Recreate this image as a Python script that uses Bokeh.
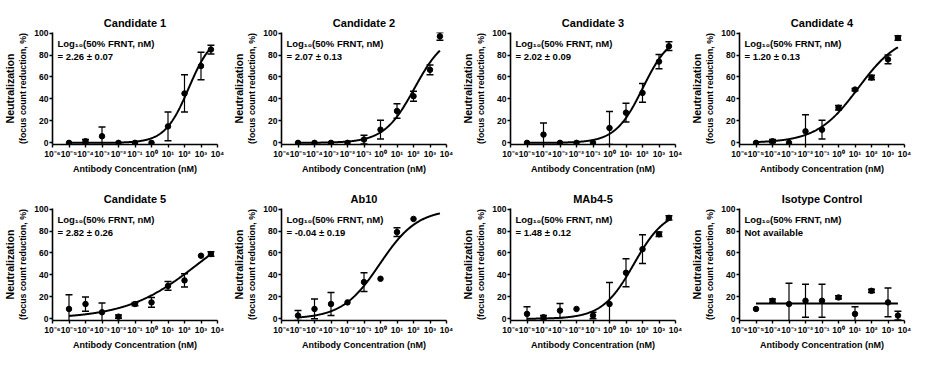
import numpy as np
from bokeh.plotting import figure
from bokeh.layouts import gridplot
from bokeh.models import Range1d, FixedTicker, CustomJSTickFormatter, Label, LinearAxis
from bokeh.embed import file_html
from bokeh.resources import INLINE

# ---------------- data ----------------
titles = ["Candidate 1", "Candidate 2", "Candidate 3", "Candidate 4",
          "Candidate 5", "Ab10", "MAb4-5", "Isotype Control"]

conc = [1e-5, 1e-4, 1e-3, 1e-2, 1e-1, 1e0, 1e1, 1e2, 1e3, 4e3]

cand1_mean = [0, 1.5, 6, 0, 0, 0, 15, 45, 70, 85]
cand1_err = [0, 1.5, 8.5, 0, 0, 0, 13, 17, 12.5, 4]
cand2_mean = [0, 0, 0, 0, 3, 12, 29, 42.5, 66.5, 97]
cand2_err = [0, 0, 0, 0, 4, 8.5, 6.5, 4.5, 4.5, 3.5]
cand3_mean = [0, 7.5, 0, 0, 0, 13.5, 27.5, 45.5, 74, 88]
cand3_err = [0, 10.5, 0, 0, 0, 15, 8.5, 8.5, 6.5, 4]
cand4_mean = [0, 1.5, 0, 10.5, 12, 32, 48.5, 59.5, 76, 95.5]
cand4_err = [0, 1.5, 0, 15, 8.5, 2, 1, 2, 4, 2]
cand5_mean = [9, 13.5, 6, 2, 13.5, 15, 30, 35, 57.5, 59]
cand5_err = [13, 6.5, 8.5, 1.5, 1.5, 4.5, 4, 6, 0, 2]
ab10_mean = [3, 9, 13.5, 15, 33.5, 36.5, 79, 91]
ab10_err = [4.5, 9, 10.5, 0, 8.5, 0, 4, 0]
mab45_mean = [4.5, 1.5, 7.5, 9, 3, 13.5, 42, 63.5, 77, 92]
mab45_err = [6.5, 1.5, 6.5, 0, 3, 19.5, 12.75, 13, 2, 2]
iso_mean = [9, 16.5, 13.5, 16.5, 16.5, 19.5, 4.5, 25.5, 15, 3]
iso_err = [0, 1.5, 19, 15, 15, 1.5, 6.5, 1.5, 13, 4]

means = [cand1_mean, cand2_mean, cand3_mean, cand4_mean,
         cand5_mean, ab10_mean, mab45_mean, iso_mean]
errs = [cand1_err, cand2_err, cand3_err, cand4_err,
        cand5_err, ab10_err, mab45_err, iso_err]

# fitted dose-response parameters (log10 EC50, Hill slope)
log_ec50 = [2.26, 2.07, 2.02, 1.20, 2.82, -0.04, 1.48, None]
hill = [0.60, 0.47, 0.52, 0.345, 0.20, 0.38, 0.45, None]
iso_level = 14
ec50_text = ["= 2.26 ± 0.07", "= 2.07 ± 0.13", "= 2.02 ± 0.09", "= 1.20 ± 0.13",
             "= 2.82 ± 0.26", "= -0.04 ± 0.19", "= 1.48 ± 0.12", "Not available"]

x_ticks = [1e-6, 1e-5, 1e-4, 1e-3, 1e-2, 1e-1, 1e0, 1e1, 1e2, 1e3, 1e4]
x_tick_labels = ["10⁻⁶", "10⁻⁵", "10⁻⁴", "10⁻³", "10⁻²", "10⁻¹",
                 "10⁰", "10¹", "10²", "10³", "10⁴"]
y_ticks = [0, 20, 40, 60, 80, 100]

FONT = "Liberation Sans"
W, H = 229, 176


def make_panel(i):
    p = figure(width=W, height=H, x_axis_type="log",
               x_range=Range1d(1e-6, 1e4), y_range=Range1d(-1.5, 100.5),
               output_backend="svg", toolbar_location=None, tools="",
               min_border_left=47, min_border_right=12,
               min_border_top=32, min_border_bottom=20)
    p.outline_line_color = None
    p.grid.visible = False
    p.background_fill_color = "white"
    p.border_fill_color = "white"

    p.title.text = titles[i]
    p.title.align = "center"
    p.title.text_font = FONT
    p.title.text_font_style = "bold"
    p.title.text_font_size = "11px"
    p.title.text_color = "black"
    p.title.offset = 0
    p.title.standoff = 8

    xa = p.xaxis[0]
    xa.ticker = FixedTicker(ticks=x_ticks, minor_ticks=[])
    xa.formatter = CustomJSTickFormatter(
        args=dict(labels=x_tick_labels),
        code="const e = Math.round(Math.log10(tick)); return labels[e + 6];")
    ya = p.yaxis[0]
    ya.ticker = FixedTicker(ticks=y_ticks, minor_ticks=[])
    for ax in (xa, ya):
        ax.axis_line_width = 1.6
        ax.axis_line_color = "black"
        ax.major_tick_line_width = 1.4
        ax.major_tick_line_color = "black"
        ax.major_tick_in = 0
        ax.major_tick_out = 3
        ax.minor_tick_line_color = None
        ax.major_label_text_font = FONT
        ax.major_label_text_font_style = "bold"
        ax.major_label_text_color = "black"
        ax.axis_label_text_font = FONT
        ax.axis_label_text_font_style = "bold"
        ax.axis_label_text_color = "black"
    xa.major_label_text_font_size = "8.5px"
    xa.major_label_standoff = 1
    ya.major_label_text_font_size = "8.5px"
    ya.major_label_standoff = 1
    xa.axis_label = "Antibody Concentration (nM)"
    xa.axis_label_text_font_size = "9px"
    xa.axis_label_standoff = 2
    ya.axis_label = "(focus count reduction, %)"
    ya.axis_label_text_font_size = "8.8px"
    ya.axis_label_standoff = 3

    # outer y-axis title line
    outer = LinearAxis(ticker=FixedTicker(ticks=[]), axis_line_color=None,
                       major_tick_line_color=None, minor_tick_line_color=None,
                       major_tick_out=0, major_tick_in=0,
                       major_label_text_font_size="0px", major_label_standoff=0,
                       axis_label="Neutralization",
                       axis_label_text_font=FONT, axis_label_text_font_style="bold",
                       axis_label_text_font_size="10.6px", axis_label_text_color="black",
                       axis_label_standoff=0)
    p.add_layout(outer, "left")

    m = means[i]
    e = errs[i]
    xs = conc[:len(m)]

    # fitted curve / line
    xc = np.logspace(-5, np.log10(conc[-1]), 300)
    if log_ec50[i] is not None:
        yc = 100.0 / (1.0 + 10 ** ((log_ec50[i] - np.log10(xc)) * hill[i]))
        p.line(xc, yc, line_color="black", line_width=2)
    else:
        p.line([conc[0], conc[-1]], [iso_level, iso_level],
               line_color="black", line_width=2)

    # error bars
    ex = [x for x, s in zip(xs, e) if s > 0]
    up = [v + s for v, s in zip(m, e) if s > 0]
    lo = [v - s for v, s in zip(m, e) if s > 0]
    p.segment(ex, lo, ex, up, line_color="black", line_width=1.2)
    p.scatter(ex + ex, up + lo, marker="dash", size=7,
              line_color="black", line_width=1.5)

    p.scatter(xs, m, marker="circle", size=5.5,
              fill_color="black", line_color="black")

    p.add_layout(Label(x=10 ** -5.7, y=90.5, text="Log₁₀(50% FRNT, nM)",
                       text_font=FONT, text_font_style="bold",
                       text_font_size="9.5px", text_baseline="middle",
                       text_color="black"))
    p.add_layout(Label(x=10 ** -5.7, y=79, text=ec50_text[i],
                       text_font=FONT, text_font_style="bold",
                       text_font_size="9.5px", text_baseline="middle",
                       text_color="black"))
    return p


figs = [make_panel(i) for i in range(8)]
grid = gridplot(figs, ncols=4, toolbar_location=None)

open("out.html", "w").write(file_html(grid, INLINE))
